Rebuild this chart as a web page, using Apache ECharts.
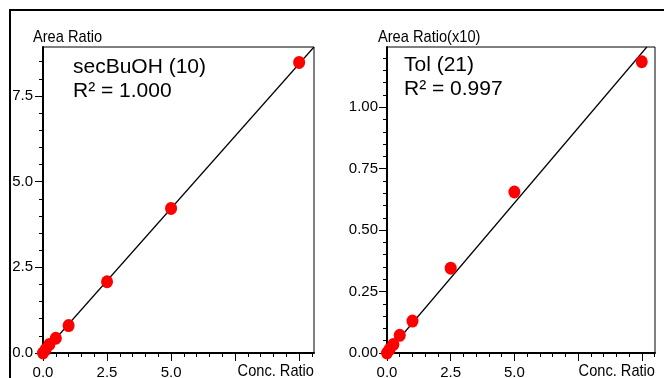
<!DOCTYPE html>
<html>
<head>
<meta charset="utf-8">
<script src="https://cdn.jsdelivr.net/npm/echarts@6/dist/echarts.min.js"></script>
<style>
  html, body { margin: 0; padding: 0; background: #fff; }
  #chart { width: 664px; height: 378px; }
</style>
</head>
<body>
<div id="chart"></div>
<script>
// calibration levels (conc. ratio) and measured area ratios
const concRatio = [0, 0.1, 0.25, 0.5, 1, 2.5, 5, 10];
const secBuOHArea = [0, 0.1, 0.25, 0.43, 0.8, 2.08, 4.22, 8.48];
const tolArea = [0, 0.015, 0.035, 0.072, 0.13, 0.345, 0.655, 1.185];

// fitted calibration lines, end points
const secBuOHFit = [[0, 0], [10.58, 8.93]];
const tolFit = [[0, 0], [10.2, 1.245]];

// ticks
const xMajorTicks = [0, 2.5, 5, 7.5, 10];
const xLabelTicks = [0, 2.5, 5];
const leftYMajorTicks = [0, 2.5, 5, 7.5];
const rightYMajorTicks = [0, 0.25, 0.5, 0.75, 1];

const SANS = '"Liberation Sans", Arial, sans-serif';
const SMALL = 15;

function steps(step, upTo) {
  const out = [];
  for (let i = 0; i * step <= upTo + 1e-9; i++) out.push(+(i * step).toFixed(4));
  return out;
}

const panels = [
  {
    grid: { left: 43, top: 47, width: 271, height: 306 },
    xMax: 10.58, yMax: 8.93,
    yMajor: leftYMajorTicks, yMinor: steps(0.5, 8.5), yDigits: 1, yMargin: 10,
    xMinor: steps(0.5, 10.5),
    points: concRatio.map((c, i) => [c, secBuOHArea[i]]),
    fit: secBuOHFit,
    yName: 'Area Ratio', yNameX: 33,
    title: 'secBuOH (10)', r2: 'R\u00b2 = 1.000', titleX: 73, titleY: 67, r2Y: 91,
  },
  {
    grid: { left: 387, top: 47, width: 268, height: 306 },
    xMax: 10.52, yMax: 1.245,
    yMajor: rightYMajorTicks, yMinor: steps(0.05, 1.2), yDigits: 2, yMargin: 9,
    xMinor: steps(0.5, 10.5),
    points: concRatio.map((c, i) => [c, tolArea[i]]),
    fit: tolFit,
    yName: 'Area Ratio(x10)', yNameX: 378,
    title: 'Tol (21)', r2: 'R\u00b2 = 0.997', titleX: 404, titleY: 65, r2Y: 89,
  },
];

const grid = [], xAxis = [], yAxis = [], series = [], graphic = [];
const labelStyle = { color: '#000', fontFamily: SANS, fontSize: SMALL };

// slightly condensed caption text, like the original instrument print-out
function caption(text, x, y, align) {
  return {
    type: 'text', x, y, scaleX: 0.86, silent: true,
    style: { text, x: 0, y: 0, fill: '#000', fontFamily: SANS, fontSize: 17, align, verticalAlign: 'middle' },
  };
}

panels.forEach((p, gi) => {
  grid.push(Object.assign({
    show: true, borderColor: '#000', borderWidth: 1, backgroundColor: 'transparent',
    containLabel: false, outerBoundsMode: 'none',
  }, p.grid));

  // major x axis with labels
  xAxis.push({
    type: 'value', gridIndex: gi, min: 0, max: p.xMax, position: 'bottom',
    axisLine: { show: true, onZero: false, lineStyle: { color: '#000', width: 2 } },
    axisTick: { show: true, length: 8, customValues: xMajorTicks, lineStyle: { color: '#000', width: 1 } },
    axisLabel: Object.assign({ customValues: xLabelTicks, margin: 12, formatter: v => v.toFixed(1) }, labelStyle),
    splitLine: { show: false },
  });
  // minor x ticks
  xAxis.push({
    type: 'value', gridIndex: gi, min: 0, max: p.xMax, position: 'bottom',
    axisLine: { show: false, onZero: false },
    axisTick: { show: true, length: 4, customValues: p.xMinor, lineStyle: { color: '#000', width: 1 } },
    axisLabel: { show: false },
    splitLine: { show: false },
  });
  // major y axis with labels
  yAxis.push({
    type: 'value', gridIndex: gi, min: 0, max: p.yMax, position: 'left',
    axisLine: { show: true, onZero: false, lineStyle: { color: '#000', width: 2 } },
    axisTick: { show: true, length: 8, customValues: p.yMajor, lineStyle: { color: '#000', width: 1 } },
    axisLabel: Object.assign({ customValues: p.yMajor, margin: p.yMargin, formatter: v => v.toFixed(p.yDigits) }, labelStyle),
    splitLine: { show: false },
  });
  // minor y ticks
  yAxis.push({
    type: 'value', gridIndex: gi, min: 0, max: p.yMax, position: 'left',
    axisLine: { show: false, onZero: false },
    axisTick: { show: true, length: 4, customValues: p.yMinor, lineStyle: { color: '#000', width: 1 } },
    axisLabel: { show: false },
    splitLine: { show: false },
  });

  series.push({
    type: 'line', xAxisIndex: gi * 2, yAxisIndex: gi * 2,
    data: p.fit, symbol: 'none', silent: true, z: 2,
    lineStyle: { color: '#000', width: 1.2 },
  });
  series.push({
    type: 'scatter', xAxisIndex: gi * 2, yAxisIndex: gi * 2,
    data: p.points, symbol: 'circle', symbolSize: [12, 13], clip: false, z: 3,
    itemStyle: { color: '#ff0000', opacity: 1 },
  });

  graphic.push(
    caption(p.yName, p.yNameX, 37, 'left'),
    caption('Conc. Ratio', p.grid.left + p.grid.width, 371, 'right'),
    { type: 'text', style: { text: p.title, x: p.titleX, y: p.titleY, fill: '#000', fontFamily: SANS, fontSize: 21, align: 'left', verticalAlign: 'middle' } },
    { type: 'text', style: { text: p.r2, x: p.titleX, y: p.r2Y, fill: '#000', fontFamily: SANS, fontSize: 21, align: 'left', verticalAlign: 'middle' } },
  );
});

graphic.push({
  type: 'polyline', silent: true,
  shape: { points: [[10, 378], [10, 10], [664, 10]] },
  style: { stroke: '#000', lineWidth: 2, fill: null },
});

const chart = echarts.init(document.getElementById('chart'), null, { renderer: 'canvas' });
chart.setOption({
  animation: false,
  backgroundColor: '#fff',
  grid, xAxis, yAxis, series, graphic,
});
</script>
</body>
</html>
